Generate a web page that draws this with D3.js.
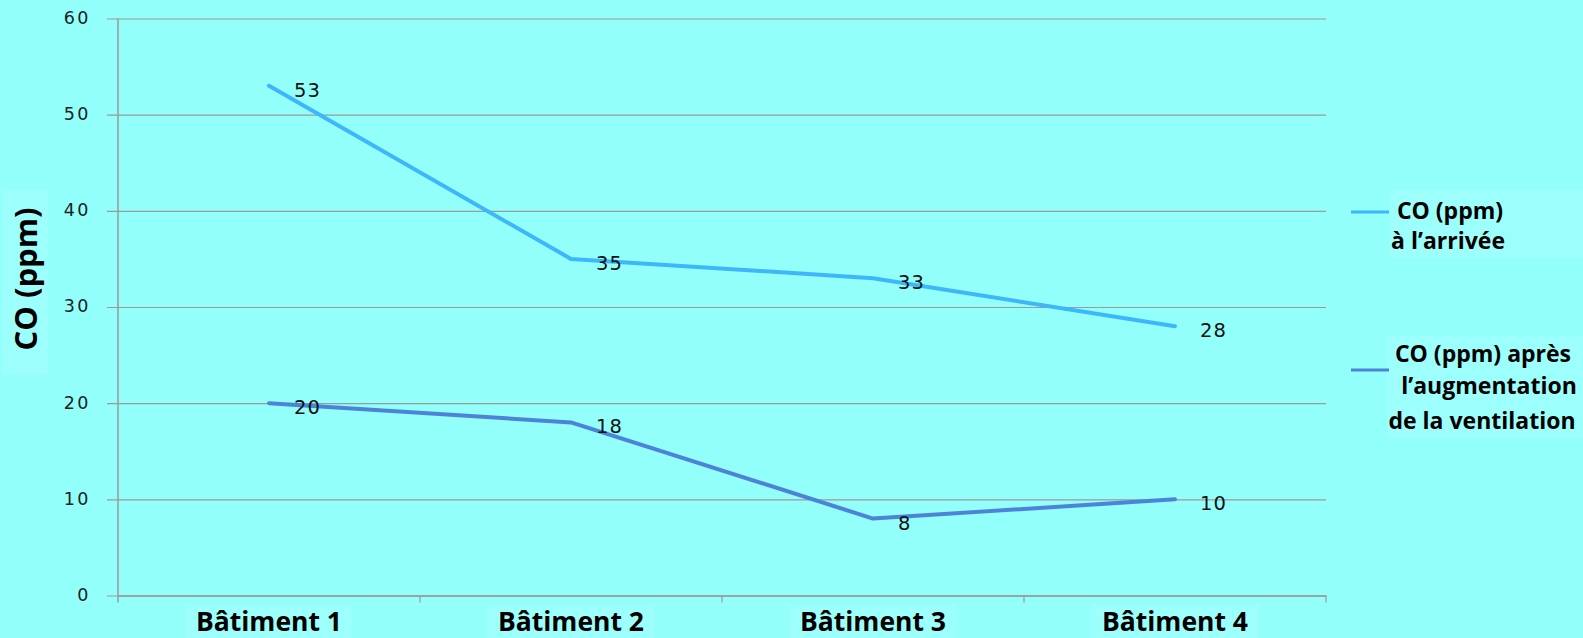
<!DOCTYPE html>
<html><head><meta charset="utf-8">
<script src="https://cdn.jsdelivr.net/npm/d3@7"></script>
<style>
html,body{margin:0;padding:0;background:#93FFFB;overflow:hidden;}
svg{display:block;}
</style></head>
<body>
<script>
const categories = ["Bâtiment 1", "Bâtiment 2", "Bâtiment 3", "Bâtiment 4"];
const arrivee = [53, 35, 33, 28];
const apres = [20, 18, 8, 10];
const yTicks = [0, 10, 20, 30, 40, 50, 60];
const seriesNames = [["CO (ppm)", "à l’arrivée"], ["CO (ppm) après", "l’augmentation", "de la ventilation"]];
const seriesColors = ["#3DB6FB", "#4C83D8"];

(function () {
const W = 1583, H = 638;
const svg = d3.select("body").append("svg").attr("width", W).attr("height", H);
svg.append("rect").attr("width", W).attr("height", H).attr("fill", "#93FFFB");

const pL = 118, pR = 1326, pT = 18.5, pB = 595.5;
const x = d3.scaleBand().domain(categories).range([pL, pR]);
const y = d3.scaleLinear().domain([0, 60]).range([pB, pT]);

// label boxes (slightly lighter)
const boxFill = "#9DFFFC";
svg.append("rect").attr("x", 3).attr("y", 190).attr("width", 45).attr("height", 185).attr("fill", boxFill);
categories.forEach(c => {
  svg.append("rect").attr("x", x(c) + x.bandwidth()/2 - 84).attr("y", 605).attr("width", 168).attr("height", 40).attr("fill", boxFill);
});
svg.append("rect").attr("x", 1390).attr("y", 190).attr("width", 193).attr("height", 68).attr("fill", boxFill);
svg.append("rect").attr("x", 1387).attr("y", 335).attr("width", 196).attr("height", 103).attr("fill", boxFill);

// gridlines
const yAxis = d3.axisLeft(y).tickValues(yTicks).tickSize(-(pR - pL)).tickPadding(18).tickFormat(d3.format("d"));
const gy = svg.append("g").attr("transform", `translate(${pL},0)`).call(yAxis);
gy.select(".domain").remove();
gy.selectAll(".tick line").attr("stroke", "#9c9a9a").attr("stroke-width", 1.2).attr("x1", -11);
gy.selectAll(".tick text").attr("font-family", "DejaVu Sans").attr("font-size", 17.5).attr("letter-spacing", 2.5)
  .attr("fill", "#1a2222").attr("x", -27).attr("dy", "0.28em");

// vertical axis line
svg.append("line").attr("x1", pL).attr("x2", pL).attr("y1", pT).attr("y2", pB + 7).attr("stroke", "#999").attr("stroke-width", 1.5);

// bottom axis
const xAxis = d3.axisBottom(x).tickSize(0).tickFormat("");
const gx = svg.append("g").attr("transform", `translate(0,${pB})`).call(xAxis);
gx.select(".domain").attr("stroke", "#999").attr("stroke-width", 1.5);
gx.selectAll(".tick").remove();
categories.forEach((c) => {
  const bx = x(c) + x.bandwidth();
  svg.append("line").attr("x1", bx).attr("x2", bx).attr("y1", pB).attr("y2", pB + 7).attr("stroke", "#999").attr("stroke-width", 1.2);
});
svg.selectAll(".cat").data(categories).enter().append("text")
  .attr("x", d => x(d) + x.bandwidth()/2).attr("y", 631)
  .attr("text-anchor", "middle").attr("font-family", "Open Sans").attr("font-weight", "bold")
  .attr("font-size", 26.5).attr("fill", "#000").text(d => d);

// y title
svg.append("text").attr("transform", "translate(37,279) rotate(-90)")
  .attr("text-anchor", "middle").attr("font-family", "Open Sans").attr("font-weight", "bold")
  .attr("font-size", 31).attr("fill", "#000").text("CO (ppm)");

// lines
const line = d3.line().x((d, i) => x(categories[i]) + x.bandwidth()/2).y(d => y(d));
[arrivee, apres].forEach((s, k) => {
  svg.append("path").datum(s).attr("d", line).attr("fill", "none")
    .attr("stroke", seriesColors[k]).attr("stroke-width", 4).attr("stroke-linejoin", "round").attr("stroke-linecap", "round");
});
[arrivee, apres].forEach(s => {
  svg.append("g").selectAll("text").data(s).enter().append("text")
    .attr("x", (d, i) => x(categories[i]) + x.bandwidth()/2 + 25)
    .attr("y", d => y(d) + 11)
    .attr("font-family", "DejaVu Sans").attr("font-size", 19.5).attr("letter-spacing", 1)
    .attr("fill", "#111").text(d => d);
});

// legend
const legY = [212, 370];
const legText = [[{t: seriesNames[0][0], x: 1450, y: 219}, {t: seriesNames[0][1], x: 1448, y: 249}],
                 [{t: seriesNames[1][0], x: 1483, y: 362}, {t: seriesNames[1][1], x: 1489, y: 394}, {t: seriesNames[1][2], x: 1482, y: 429}]];
legY.forEach((ly, k) => {
  svg.append("line").attr("x1", 1351).attr("x2", 1389).attr("y1", ly).attr("y2", ly)
    .attr("stroke", seriesColors[k]).attr("stroke-width", 3);
  legText[k].forEach(o => {
    svg.append("text").attr("x", o.x).attr("y", o.y).attr("text-anchor", "middle")
      .attr("font-family", "Open Sans").attr("font-weight", "bold").attr("font-size", 23)
      .attr("fill", "#000").text(o.t);
  });
});
})();
</script>
</body></html>
